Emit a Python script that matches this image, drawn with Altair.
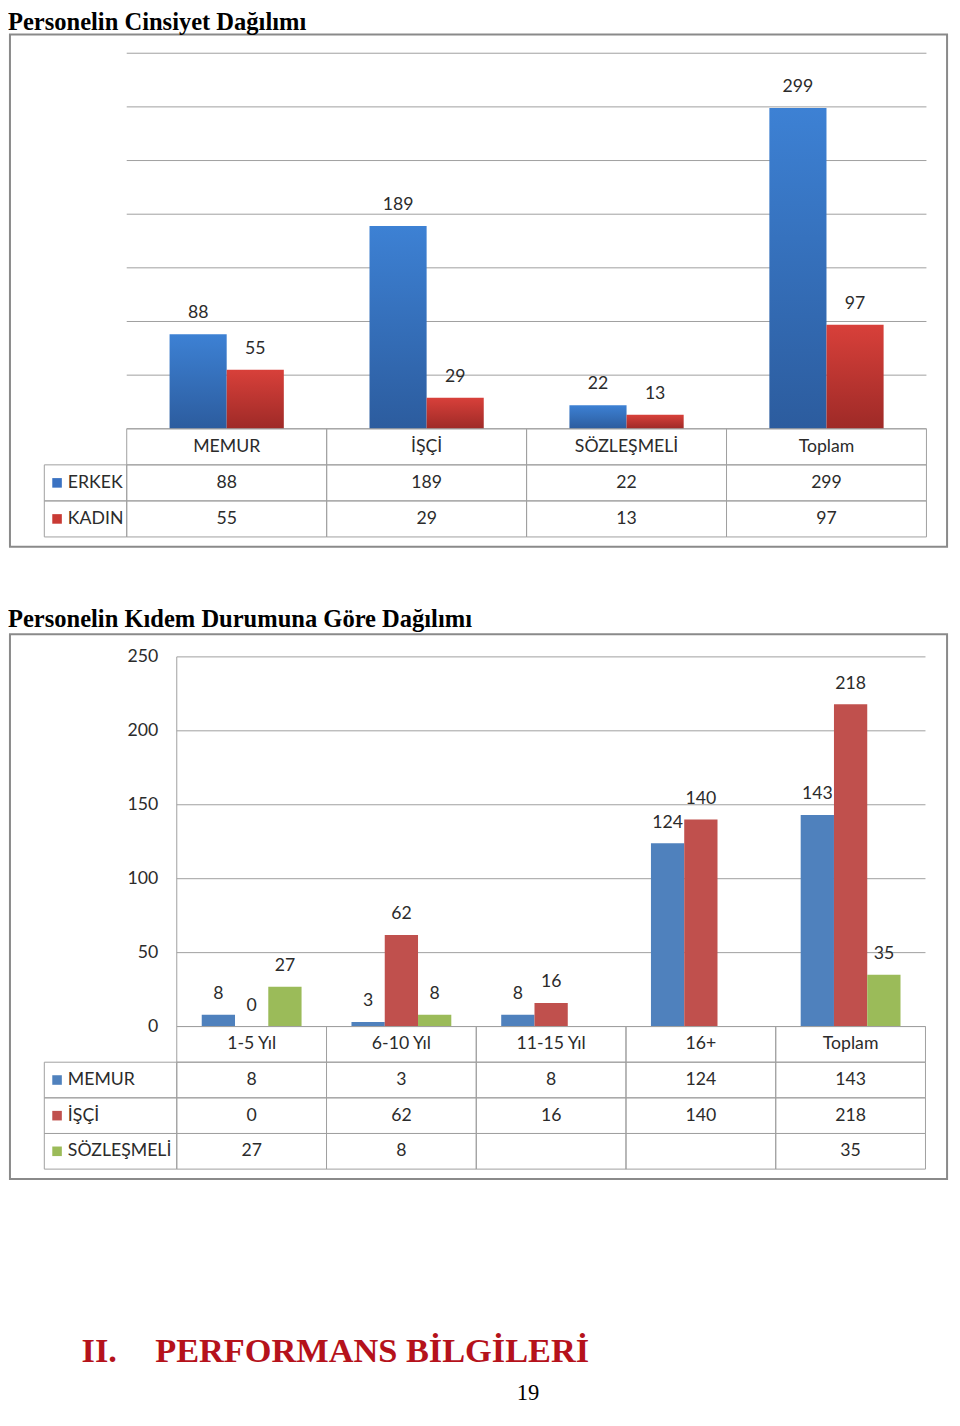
import altair as alt
import pandas as pd

# ---------------- data ----------------
title1 = "Personelin Cinsiyet Dağılımı"
cats1 = ["MEMUR", "İŞÇİ", "SÖZLEŞMELİ", "Toplam"]
series1 = ["ERKEK", "KADIN"]
erkek = [88, 189, 22, 299]
kadin = [55, 29, 13, 97]
grid1 = [0, 50, 100, 150, 200, 250, 300, 350]

title2 = "Personelin Kıdem Durumuna Göre Dağılımı"
cats2 = ["1-5 Yıl", "6-10 Yıl", "11-15 Yıl", "16+", "Toplam"]
series2 = ["MEMUR", "İŞÇİ", "SÖZLEŞMELİ"]
memur = [8, 3, 8, 124, 143]
isci = [0, 62, 16, 140, 218]
sozlesmeli = [27, 8, None, None, 35]
ticks2 = [0, 50, 100, 150, 200, 250]

heading_num = "II."
heading_txt = "PERFORMANS BİLGİLERİ"
page_no = "19"

# ---------------- layout helpers ----------------
W, H = 942, 1402
SX, SY = W / 960, H / 1426
S = min(SX, SY)


def px(v):
    return round(v * SX, 2)


def py(v):
    return round(v * SY, 2)


FONT = "Lato"
SERIF = "Liberation Serif"
TXT = "#2b2b2b"
GRID = "#a0a0a0"
FRAME = "#8a8a8a"
LBL = 18 * S
HDR = "_h"

blue_grad = alt.LinearGradient(
    gradient="linear",
    stops=[alt.GradientStop(color="#3d81d4", offset=0),
           alt.GradientStop(color="#2c5c9e", offset=1)],
    x1=0, x2=0, y1=0, y2=1)
red_grad = alt.LinearGradient(
    gradient="linear",
    stops=[alt.GradientStop(color="#d8403a", offset=0),
           alt.GradientStop(color="#9e2a27", offset=1)],
    x1=0, x2=0, y1=0, y2=1)
colors1 = ["#3a72c2", "#c93a34"]
colors2 = ["#4f81bd", "#c0504d", "#9bbb59"]

one = pd.DataFrame({"k": [0]})


def band(domain, lo, hi, po=0.0):
    return alt.Scale(type="band", domain=domain, range=[lo, hi],
                     paddingInner=0, paddingOuter=po)


def frame(x0, x1, y0, y1):
    return alt.Chart(one).mark_rect(color="white", fillOpacity=0, stroke=FRAME,
                                    strokeWidth=2).encode(
        x=alt.value(px(x0)), x2=alt.value(px(x1)),
        y=alt.value(py(y0)), y2=alt.value(py(y1)))


def free_text(txt, x, y, size, weight="normal", color="black", font=SERIF, align="left"):
    return alt.Chart(pd.DataFrame({"t": [txt]})).mark_text(
        font=font, fontSize=size, fontWeight=weight, color=color, align=align,
        baseline="alphabetic").encode(x=alt.value(px(x)), y=alt.value(py(y)), text="t:N")


layers = []

# ================= chart 1 =================
rows1 = [HDR] + series1
df1 = pd.DataFrame([{"cat": c, "series": s, "value": v}
                    for s, vals in zip(series1, [erkek, kadin])
                    for c, v in zip(cats1, vals)])
xs1 = band(cats1, px(121), px(936))
xo1 = alt.Scale(type="band", domain=series1, paddingInner=0, paddingOuter=0.75)
ys1 = alt.Scale(domain=[0, 350], range=[py(428), py(46)], nice=False, zero=True)
rs1 = band(rows1, py(428), py(538))
ls1 = band(["lg"], px(37), px(121))

layers.append(frame(2, 957, 27, 548))
layers.append(free_text(title1, 0, 22.5, 25 * S, weight="bold"))
layers.append(alt.Chart(pd.DataFrame({"t": grid1})).mark_rule(color=GRID, strokeWidth=1).encode(
    y=alt.Y("t:Q", scale=ys1, axis=None), x=alt.value(px(121)), x2=alt.value(px(936))))
for s, grad in zip(series1, [blue_grad, red_grad]):
    layers.append(alt.Chart(df1).transform_filter(alt.datum.series == s).mark_bar(color=grad).encode(
        x=alt.X("cat:N", scale=xs1, axis=None),
        xOffset=alt.XOffset("series:N", scale=xo1),
        y=alt.Y("value:Q", scale=ys1, axis=None)))
layers.append(alt.Chart(df1).mark_text(font=FONT, fontSize=LBL, color=TXT, baseline="middle",
                                       dy=-py(21.5)).encode(
    x=alt.X("cat:N", scale=xs1, axis=None),
    xOffset=alt.XOffset("series:N", scale=xo1),
    y=alt.Y("value:Q", scale=ys1, axis=None),
    text="value:Q"))
# table cells
cells1 = pd.DataFrame([{"cat": c, "row": r} for r in rows1 for c in cats1])
layers.append(alt.Chart(cells1).mark_rect(color="white", fillOpacity=0, stroke=GRID, strokeWidth=1).encode(
    x=alt.X("cat:N", scale=xs1, axis=None), y=alt.Y("row:N", scale=rs1, axis=None)))
leg1 = pd.DataFrame({"col": ["lg"] * len(series1), "row": series1})
layers.append(alt.Chart(leg1).mark_rect(color="white", fillOpacity=0, stroke=GRID, strokeWidth=1).encode(
    x=alt.X("col:N", scale=ls1, axis=None), y=alt.Y("row:N", scale=rs1, axis=None)))
layers.append(alt.Chart(pd.DataFrame({"cat": cats1, "row": [HDR] * len(cats1)})).mark_text(
    font=FONT, fontSize=LBL, color=TXT, baseline="middle").encode(
    x=alt.X("cat:N", scale=xs1, axis=None, bandPosition=0.5),
    y=alt.Y("row:N", scale=rs1, axis=None, bandPosition=0.5), text="cat:N"))
layers.append(alt.Chart(df1).mark_text(font=FONT, fontSize=LBL, color=TXT, baseline="middle").encode(
    x=alt.X("cat:N", scale=xs1, axis=None, bandPosition=0.5),
    y=alt.Y("series:N", scale=rs1, axis=None, bandPosition=0.5), text="value:Q"))
layers.append(alt.Chart(leg1).mark_square(size=95 * S * S, opacity=1).encode(
    x=alt.value(px(50)),
    y=alt.Y("row:N", scale=rs1, axis=None, bandPosition=0.5),
    color=alt.Color("row:N", scale=alt.Scale(domain=series1, range=colors1), legend=None)))
layers.append(alt.Chart(leg1).mark_text(font=FONT, fontSize=LBL, color=TXT, align="left",
                                        baseline="middle").encode(
    x=alt.value(px(61)), y=alt.Y("row:N", scale=rs1, axis=None, bandPosition=0.5), text="row:N"))

# ================= chart 2 =================
rows2 = [HDR] + series2
df2_all = pd.DataFrame([{"cat": c, "series": s, "value": v}
                        for s, vals in zip(series2, [memur, isci, sozlesmeli])
                        for c, v in zip(cats2, vals)])
df2 = df2_all.dropna().copy()
df2["value"] = df2["value"].astype(int)
xs2 = band(cats2, px(172), px(935))
xo2 = alt.Scale(type="band", domain=series2, paddingInner=0, paddingOuter=0.75)
ys2 = alt.Scale(domain=[0, 250], range=[py(1036), py(660)], nice=False, zero=True)
rs2 = band(rows2, py(1036), py(1181))
ls2 = band(["lg"], px(37), px(172))

layers.append(frame(2, 957, 637, 1191))
layers.append(free_text(title2, 0, 630, 25 * S, weight="bold"))
layers.append(alt.Chart(pd.DataFrame({"t": ticks2})).mark_rule(color=GRID, strokeWidth=1).encode(
    y=alt.Y("t:Q", scale=ys2, axis=None), x=alt.value(px(172)), x2=alt.value(px(935))))
layers.append(alt.Chart(one).mark_rule(color=GRID, strokeWidth=1).encode(
    x=alt.value(px(172)), y=alt.value(py(660)), y2=alt.value(py(1036))))
layers.append(alt.Chart(pd.DataFrame({"t": ticks2})).mark_text(
    font=FONT, fontSize=LBL, color=TXT, align="right", baseline="middle").encode(
    y=alt.Y("t:Q", scale=ys2, axis=None), x=alt.value(px(153)), text="t:Q"))
layers.append(alt.Chart(df2).mark_bar().encode(
    x=alt.X("cat:N", scale=xs2, axis=None),
    xOffset=alt.XOffset("series:N", scale=xo2),
    y=alt.Y("value:Q", scale=ys2, axis=None),
    color=alt.Color("series:N", scale=alt.Scale(domain=series2, range=colors2), legend=None)))
layers.append(alt.Chart(df2).mark_text(font=FONT, fontSize=LBL, color=TXT, baseline="middle",
                                       dy=-py(21)).encode(
    x=alt.X("cat:N", scale=xs2, axis=None),
    xOffset=alt.XOffset("series:N", scale=xo2),
    y=alt.Y("value:Q", scale=ys2, axis=None),
    text="value:Q"))
cells2 = pd.DataFrame([{"cat": c, "row": r} for r in rows2 for c in cats2])
layers.append(alt.Chart(cells2).mark_rect(color="white", fillOpacity=0, stroke=GRID, strokeWidth=1).encode(
    x=alt.X("cat:N", scale=xs2, axis=None), y=alt.Y("row:N", scale=rs2, axis=None)))
leg2 = pd.DataFrame({"col": ["lg"] * len(series2), "row": series2})
layers.append(alt.Chart(leg2).mark_rect(color="white", fillOpacity=0, stroke=GRID, strokeWidth=1).encode(
    x=alt.X("col:N", scale=ls2, axis=None), y=alt.Y("row:N", scale=rs2, axis=None)))
layers.append(alt.Chart(pd.DataFrame({"cat": cats2, "row": [HDR] * len(cats2)})).mark_text(
    font=FONT, fontSize=LBL, color=TXT, baseline="middle").encode(
    x=alt.X("cat:N", scale=xs2, axis=None, bandPosition=0.5),
    y=alt.Y("row:N", scale=rs2, axis=None, bandPosition=0.5), text="cat:N"))
layers.append(alt.Chart(df2).mark_text(font=FONT, fontSize=LBL, color=TXT, baseline="middle").encode(
    x=alt.X("cat:N", scale=xs2, axis=None, bandPosition=0.5),
    y=alt.Y("series:N", scale=rs2, axis=None, bandPosition=0.5), text="value:Q"))
layers.append(alt.Chart(leg2).mark_square(size=95 * S * S, opacity=1).encode(
    x=alt.value(px(50)),
    y=alt.Y("row:N", scale=rs2, axis=None, bandPosition=0.5),
    color=alt.Color("row:N", scale=alt.Scale(domain=series2, range=colors2), legend=None)))
layers.append(alt.Chart(leg2).mark_text(font=FONT, fontSize=LBL, color=TXT, align="left",
                                        baseline="middle").encode(
    x=alt.value(px(61)), y=alt.Y("row:N", scale=rs2, axis=None, bandPosition=0.5), text="row:N"))

# ================= heading & page number =================
layers.append(free_text(heading_num, 75, 1377, 35 * S, weight="bold", color="#b5121b"))
layers.append(free_text(heading_txt, 150, 1377, 35 * S, weight="bold", color="#b5121b"))
layers.append(free_text(page_no, 530, 1416, 23 * S, align="center"))

chart = alt.layer(*layers).resolve_scale(
    x="independent", y="independent", xOffset="independent", color="independent"
).properties(
    width=W, height=H, autosize=alt.AutoSizeParams(type="none"), padding=0
).configure_view(stroke="transparent")

chart.save("out.html", embed_options={"renderer": "svg", "actions": False})
